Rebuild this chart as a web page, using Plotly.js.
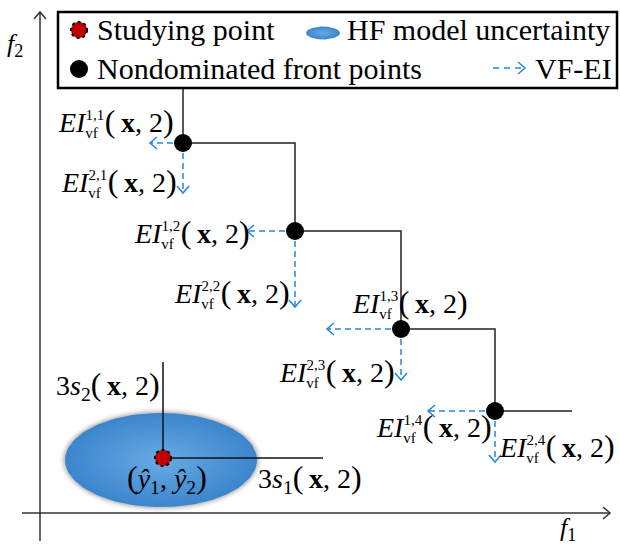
<!DOCTYPE html>
<html>
<head>
<meta charset="utf-8">
<script src="https://cdn.plot.ly/plotly-3.0.1.min.js"></script>
<style>html,body{margin:0;padding:0;background:#fff;}#chart{width:620px;height:545px;}</style>
</head>
<body>
<div id="chart"></div>
<script>
// ---------- data (f1 / f2 units, origin at axes intersection) ----------
const frontF1 = [143, 255, 361, 455];          // nondominated front points, f1
const frontF2 = [370, 282, 184, 102];          // nondominated front points, f2
const frontTopF2 = 425;                        // front line continues up to
const frontRightF1 = 532;                      // front line continues right to
const eiAlongF1 = [33, 48, 74, 67];            // VF-EI arrow lengths (1,k) toward -f1
const eiAlongF2 = [50, 76, 51, 51];            // VF-EI arrow lengths (2,k) toward -f2
const eiSup1 = ['1,1', '1,2', '1,3', '1,4'];
const eiSup2 = ['2,1', '2,2', '2,3', '2,4'];
const studyF1 = 123, studyF2 = 55;             // studying point (y1hat, y2hat)
const threeS1 = 160, threeS2 = 96;             // 3 s1(x,2), 3 s2(x,2)
const ellipseR1 = 96, ellipseR2 = 47;          // HF model uncertainty ellipse
const legendLabels = ['Studying point', 'HF model uncertainty', 'Nondominated front points', 'VF-EI'];

// ---------- layout config ----------
const FONT = 'Liberation Serif, Times New Roman, serif';
const BLUE = '#2286dc';
const ARROW_DASH = '6px,4px';
// label group offsets relative to each front point (left edge, middle)
const ei1Offset = [[-126, 21], [-162, -2], [-50, 26], [-120, -16]];
const ei2Offset = [[-123, -39], [-122, -62], [-123, -43], [3, -36]];

const traces = [];
const shapes = [];
const annotations = [];

function txt(x, y, text, size, xanchor, extra) {
  annotations.push(Object.assign({
    x: x, y: y, xref: 'x', yref: 'y', text: text, showarrow: false,
    xanchor: xanchor || 'left', yanchor: 'middle', borderpad: 0,
    font: {family: FONT, size: size, color: '#000'}
  }, extra || {}));
}
function chevron(xs, ys, tx, ty, dir) {
  const L = 7, W = 6;
  let a, b;
  if (dir === 'left') { a = [tx + L, ty + W]; b = [tx + L, ty - W]; }
  else if (dir === 'right') { a = [tx - L, ty + W]; b = [tx - L, ty - W]; }
  else if (dir === 'down') { a = [tx - W, ty + L]; b = [tx + W, ty + L]; }
  else { a = [tx - W, ty - L]; b = [tx + W, ty - L]; }
  xs.push(a[0], tx, b[0], null); ys.push(a[1], ty, b[1], null);
}
const PAREN_L = '<span style="font-size:32px">(</span>';
const PAREN_R = '<span style="font-size:32px">)</span>';
const XARG = PAREN_L + '\u2009<b>x</b>, 2' + PAREN_R;
function eiLabel(left, cy, sup) {
  const t = '<i>EI</i><sup><span style="font-size:15px">' + sup + '</span></sup>' +
    '<span style="letter-spacing:-26px"> </span>' +
    '<sub><span style="font-size:15px">vf</span></sub> ' + XARG;
  txt(left, cy, t, 28, 'left');
}

// ---------- axes (drawn with arrows) ----------
traces.push({x: [0, 0], y: [-28, 501], mode: 'lines', line: {color: '#333', width: 1.5}, hoverinfo: 'skip'});
traces.push({x: [-18, 570], y: [0, 0], mode: 'lines', line: {color: '#333', width: 1.5}, hoverinfo: 'skip'});
const axX = [], axY = [];
chevron(axX, axY, 0, 501, 'up');
chevron(axX, axY, 570, 0, 'right');
traces.push({x: axX, y: axY, mode: 'lines', line: {color: '#333', width: 1.5}, hoverinfo: 'skip'});
txt(-25, 468, '<i>f</i><sub>2</sub>', 26, 'center');
txt(528, -16, '<i>f</i><sub>1</sub>', 26, 'center');

// ---------- uncertainty ellipse ----------
function ellipsePts(cx, cy, rx, ry) {
  const xs = [], ys = [];
  for (let i = 0; i <= 120; i++) {
    const t = i / 120 * 2 * Math.PI;
    xs.push(cx + rx * Math.cos(t)); ys.push(cy + ry * Math.sin(t));
  }
  return [xs, ys];
}
[[5, 'rgba(0,0,0,0.05)'], [3, 'rgba(0,0,0,0.07)'], [1.5, 'rgba(0,0,0,0.10)']].forEach(function (g) {
  const e = ellipsePts(studyF1 - 2, studyF2 - 2, ellipseR1 + g[0], ellipseR2 + g[0]);
  traces.push({x: e[0], y: e[1], mode: 'lines', fill: 'toself', fillcolor: g[1], line: {width: 0}, hoverinfo: 'skip'});
});
const ell = ellipsePts(studyF1 - 2, studyF2 - 2, ellipseR1, ellipseR2);
traces.push({x: ell[0], y: ell[1], mode: 'lines', fill: 'toself', line: {width: 0, color: '#4a90d4'},
  fillcolor: '#4a90d4',
  fillgradient: {type: 'radial', colorscale: [[0, '#68abe3'], [1, '#3c85cc']]}, hoverinfo: 'skip'});

// 3s lines
traces.push({x: [studyF1, studyF1, null, studyF1, studyF1 + threeS1], y: [studyF2, studyF2 + threeS2, null, studyF2, studyF2],
  mode: 'lines', line: {color: '#111', width: 1.5}, hoverinfo: 'skip'});
shapes.push({type: 'circle', xref: 'x', yref: 'y', x0: studyF1 - 8, x1: studyF1 + 8, y0: studyF2 - 8, y1: studyF2 + 8,
  fillcolor: '#c00000', line: {color: '#000', width: 2, dash: 'dot'}});
txt(studyF1 - 2, studyF2 + 73, '3<i>s</i><sub>2</sub>' + XARG, 28, 'right');
txt(studyF1 + 94, studyF2 - 20, '3<i>s</i><sub>1</sub>' + XARG, 28, 'left');
txt(studyF1 + 4, studyF2 - 20, PAREN_L + '<i>ŷ</i><sub>1</sub>, <i>ŷ</i><sub>2</sub>' + PAREN_R, 28, 'center');

// ---------- nondominated front ----------
traces.push({x: [frontF1[0]].concat(frontF1, [frontRightF1]), y: [frontTopF2].concat(frontF2, [frontF2[frontF2.length - 1]]),
  mode: 'lines', line: {color: '#222', width: 1.5, shape: 'hv'}, hoverinfo: 'skip'});

// VF-EI dashed arrows
const dX = [], dY = [], hX = [], hY = [];
for (let k = 0; k < frontF1.length; k++) {
  const px = frontF1[k], py = frontF2[k];
  dX.push(px, px - eiAlongF1[k], null); dY.push(py, py, null);
  dX.push(px, px, null); dY.push(py, py - eiAlongF2[k], null);
  chevron(hX, hY, px - eiAlongF1[k], py, 'left');
  chevron(hX, hY, px, py - eiAlongF2[k], 'down');
  eiLabel(px + ei1Offset[k][0], py + ei1Offset[k][1], eiSup1[k]);
  eiLabel(px + ei2Offset[k][0], py + ei2Offset[k][1], eiSup2[k]);
}
traces.push({x: dX, y: dY, mode: 'lines', line: {color: BLUE, width: 1.5, dash: ARROW_DASH}, hoverinfo: 'skip'});
traces.push({x: hX, y: hY, mode: 'lines', line: {color: BLUE, width: 1.5}, hoverinfo: 'skip'});
traces.push({x: frontF1, y: frontF2, mode: 'markers', marker: {color: '#000', size: 18}, hoverinfo: 'skip'});

// ---------- legend (drawn manually) ----------
shapes.push({type: 'rect', xref: 'x', yref: 'y', x0: 18, x1: 577, y0: 425, y1: 501, line: {color: '#000', width: 2.5}, fillcolor: 'rgba(0,0,0,0)'});
shapes.push({type: 'circle', xref: 'x', yref: 'y', x0: 31, x1: 47, y0: 475, y1: 491,
  fillcolor: '#c00000', line: {color: '#000', width: 2, dash: 'dot'}});
const le = ellipsePts(283, 480, 17, 6.5);
traces.push({x: le[0], y: le[1], mode: 'lines', fill: 'toself', line: {width: 0, color: '#4a90d4'}, fillcolor: '#4a90d4',
  fillgradient: {type: 'radial', colorscale: [[0, '#68abe3'], [1, '#3c85cc']]}, hoverinfo: 'skip'});
traces.push({x: [39], y: [444], mode: 'markers', marker: {color: '#000', size: 18}, hoverinfo: 'skip'});
traces.push({x: [453, 483], y: [445, 445], mode: 'lines', line: {color: BLUE, width: 1.5, dash: '6px,5px'}, hoverinfo: 'skip'});
const lx = [], ly = [];
chevron(lx, ly, 485, 445, 'right');
traces.push({x: lx, y: ly, mode: 'lines', line: {color: BLUE, width: 1.5}, hoverinfo: 'skip'});
txt(56, 484, legendLabels[0], 30, 'left');
txt(306, 484, legendLabels[1], 30, 'left');
txt(56, 445, legendLabels[2], 30, 'left');
txt(494, 445, legendLabels[3], 30, 'left');

const layout = {
  width: 620, height: 545,
  margin: {l: 0, r: 0, t: 0, b: 0, pad: 0},
  paper_bgcolor: '#fff', plot_bgcolor: '#fff',
  showlegend: false,
  font: {family: FONT},
  xaxis: {range: [-40, 580], visible: false, fixedrange: true},
  yaxis: {range: [-32, 513], visible: false, fixedrange: true},
  shapes: shapes,
  annotations: annotations
};
Plotly.newPlot('chart', traces, layout, {staticPlot: true, displayModeBar: false});
</script>
</body>
</html>
